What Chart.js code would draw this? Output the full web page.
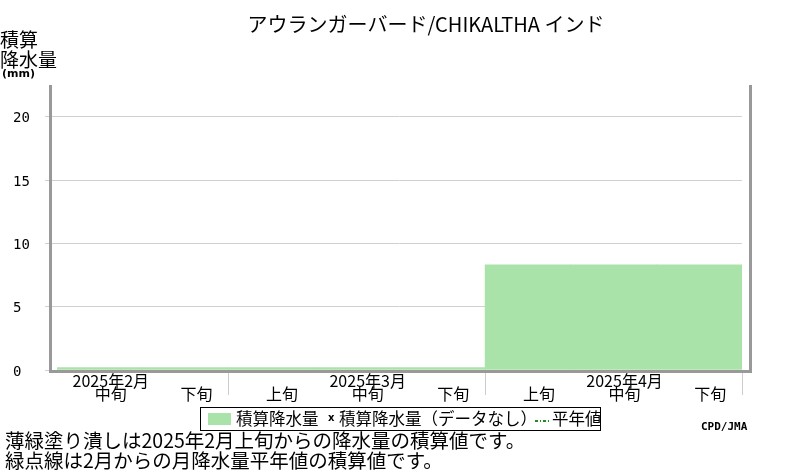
<!DOCTYPE html>
<html><head><meta charset="utf-8">
<script src="https://cdn.jsdelivr.net/npm/chart.js@4/dist/chart.umd.min.js"></script>
<style>html,body{margin:0;padding:0;background:#fff}#wrap{width:800px;height:470px;position:relative}</style>
</head><body><div id="wrap"><canvas id="c" width="800" height="470"></canvas></div>
<script>
const titleText = 'アウランガーバード/CHIKALTHA インド';
const monthLabels = ['2025年2月', '', '', '2025年3月', '', '', '2025年4月', ''];
const dekadLabels = ['中旬', '下旬', '上旬', '中旬', '下旬', '上旬', '中旬', '下旬'];
const accumPrecip = [0.2, 0.2, 0.2, 0.2, 0.2, 8.3, 8.3, 8.3];
const monthEndIndex = [1, 4, 7];
const yTitleLines = ['積算', '降水量'];
const yUnit = '(mm)';
const legendItems = ['積算降水量', '積算降水量（データなし）', '平年値'];
const noteLines = ['薄緑塗り潰しは2025年2月上旬からの降水量の積算値です。', '緑点線は2月からの月降水量平年値の積算値です。'];
const creditText = 'CPD/JMA';

const JP = '"Noto Sans CJK JP", "Noto Sans", sans-serif';
const GREEN = '#aae3aa';

const deco = {
  id: 'deco',
  afterDraw(chart) {
    const ctx = chart.ctx, ca = chart.chartArea, xs = chart.scales.x;
    ctx.save();
    // frame
    ctx.strokeStyle = '#999'; ctx.lineWidth = 3;
    ctx.beginPath();
    ctx.moveTo(ca.left - 6.5, ca.top);
    ctx.lineTo(ca.left - 6.5, ca.bottom + 1.5);
    ctx.lineTo(ca.right + 8.5, ca.bottom + 1.5);
    ctx.lineTo(ca.right + 8.5, ca.top);
    ctx.stroke();
    // month dividers
    const half = (xs.getPixelForValue(1) - xs.getPixelForValue(0)) / 2;
    ctx.strokeStyle = '#cccccc'; ctx.lineWidth = 1;
    monthEndIndex.forEach(i => {
      const x = Math.round(xs.getPixelForValue(i) + half) + 0.5;
      ctx.beginPath(); ctx.moveTo(x, ca.bottom + 3); ctx.lineTo(x, ca.bottom + 25); ctx.stroke();
    });
    // title
    ctx.fillStyle = '#000'; ctx.textBaseline = 'middle';
    ctx.textAlign = 'center';
    ctx.font = '20px ' + JP;
    ctx.fillText(titleText, 426, 24);
    // y title
    ctx.textAlign = 'left';
    ctx.font = '19px ' + JP;
    ctx.fillText(yTitleLines[0], 0, 40);
    ctx.fillText(yTitleLines[1], 0, 60);
    ctx.font = 'bold 11px "DejaVu Sans"';
    ctx.fillText(yUnit, 2, 74);
    // legend
    ctx.strokeStyle = '#000'; ctx.lineWidth = 1;
    ctx.strokeRect(200.5, 407.5, 400, 23);
    ctx.fillStyle = GREEN; ctx.fillRect(208, 413, 23, 12);
    ctx.fillStyle = '#000';
    ctx.font = '16.5px ' + JP;
    ctx.fillText(legendItems[0], 236, 419);
    ctx.font = 'bold 10px "DejaVu Sans"';
    ctx.fillText('x', 328, 418);
    ctx.font = '16.5px ' + JP;
    ctx.fillText(legendItems[1], 339, 419);
    ctx.strokeStyle = '#1f8f1f'; ctx.lineWidth = 2;
    ctx.setLineDash([3, 2, 1, 2]);
    ctx.beginPath(); ctx.moveTo(535, 421); ctx.lineTo(551, 421); ctx.stroke();
    ctx.setLineDash([]);
    ctx.fillText(legendItems[2], 552, 419);
    // credit
    ctx.font = 'bold 11px "DejaVu Sans Mono"';
    ctx.fillText(creditText, 701, 427);
    // notes
    ctx.font = '19.5px ' + JP;
    ctx.fillText(noteLines[0], 5, 441);
    ctx.fillText(noteLines[1], 5, 461);
    ctx.restore();
  }
};

new Chart(document.getElementById('c'), {
  type: 'bar',
  data: {
    labels: dekadLabels.map((d, i) => [monthLabels[i], d]),
    datasets: [{
      label: legendItems[0], data: accumPrecip, backgroundColor: GREEN,
      borderWidth: 0, categoryPercentage: 1, barPercentage: 1
    }]
  },
  options: {
    responsive: false, animation: false, devicePixelRatio: 1,
    layout: { padding: { left: 13, right: 58, top: 85, bottom: 0 } },
    plugins: { legend: { display: false }, title: { display: false }, tooltip: { enabled: false } },
    scales: {
      x: {
        grid: { display: false, drawTicks: false }, border: { display: false },
        ticks: { padding: 5, labelOffset: 11, maxRotation: 0, autoSkip: false, color: '#000',
          font: { family: JP, size: 16, lineHeight: 0.8 } },
        afterFit(s) { s.height = 100; }
      },
      y: {
        min: 0, max: 22.5,
        grid: { color: '#d0d0d0', tickLength: 12, lineWidth: 1 }, border: { display: false },
        ticks: { stepSize: 5, includeBounds: false, crossAlign: 'far', color: '#000', padding: 0,
          labelOffset: 2, font: { family: '"DejaVu Sans Mono"', size: 14 } },
        afterFit(s) { s.width = 44; }
      }
    }
  },
  plugins: [deco]
});
</script></body></html>
